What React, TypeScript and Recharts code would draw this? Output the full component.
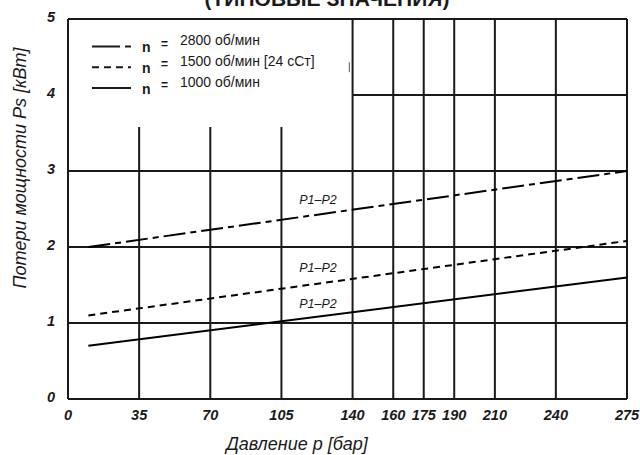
import { LineChart, Line, XAxis, YAxis, ReferenceLine, ReferenceDot, Customized } from "recharts"

// pressure p [bar] at the ends of each straight curve
const pressure = [10, 275]
// power loss Ps [kW]
const loss2800 = [2.0, 3.0]
const loss1500 = [1.1, 2.08]
const loss1000 = [0.7, 1.6]

const speedNames = ["2800 об/мин", "1500 об/мин [24 сСт]", "1000 об/мин"]
const curveLabel = "P1–P2"
const curveLabelPressure = 123
const curveLabelLoss = [2.63, 1.73, 1.26]

const pressureTicks = [0, 35, 70, 105, 140, 160, 175, 190, 210, 240, 275]
const lossTicks = [0, 1, 2, 3, 4, 5]

// grid drawn by hand like the original sheet
const shortVerticals = [35, 70, 105]
const shortVerticalTop = 3.58
const fullVerticals = [140, 160, 175, 190, 210, 240, 275]
const fullHorizontals = [1, 2, 3, 5]
const partialHorizontals = [4]
const partialFrom = 140

const FONT = "'Liberation Sans', Arial, sans-serif"
const INK = "#1a1a1a"
const DASHES = ["22 5 6 5", "7 5", undefined]

const rows = pressure.map((p, i) => ({ p, a: loss2800[i], b: loss1500[i], c: loss1000[i] }))

const PressureTick = (props: any) => (
  <text x={props.x} y={props.y} dy={11} textAnchor="middle" fill={INK} fontSize={14.5} fontStyle="italic" fontWeight="bold" fontFamily={FONT}>
    {props.payload.value}
  </text>
)

const LossTick = (props: any) => (
  <text x={props.x} y={props.y} dy={3} textAnchor="end" fill={INK} fontSize={14.5} fontStyle="italic" fontWeight="bold" fontFamily={FONT}>
    {props.payload.value}
  </text>
)

function Decorations() {
  return (
    <g fontFamily={FONT} fill={INK}>
      <text x={327} y={6} textAnchor="middle" fontSize={21} fontWeight="bold">
        (ТИПОВЫЕ ЗНАЧЕНИЯ)
      </text>
      <text
        x={20}
        y={168}
        transform="rotate(-90 20 168)"
        textAnchor="middle"
        dominantBaseline="central"
        fontSize={18}
        fontStyle="italic"
      >
        Потери мощности Ps [кВт]
      </text>
      <text x={297} y={450} textAnchor="middle" fontSize={18} fontStyle="italic">
        Давление p [бар]
      </text>
      {speedNames.map((name, i) => {
        const y = 46.5 + i * 20.8
        return (
          <g key={name}>
            <line x1={92} x2={131} y1={y} y2={y} stroke={INK} strokeWidth={2} strokeDasharray={i === 0 ? "28 5 6 50" : DASHES[i]} />
            <text x={142} y={y + 5.5} fontSize={14} fontWeight="bold">n</text>
            <text x={161} y={y + 1} fontSize={12} fontWeight="bold">=</text>
            <text x={180} y={y - 1.5} fontSize={14}>{name}</text>
          </g>
        )
      })}
    </g>
  )
}

export default function App() {
  return (
    <div style={{ position: "fixed", left: 0, top: 0, width: 640, height: 455, background: "#fff" }}>
      <LineChart width={640} height={455} data={rows} margin={{ top: 19, right: 13, bottom: 26, left: 28 }}>
        <XAxis
          dataKey="p"
          type="number"
          domain={[0, 275]}
          ticks={pressureTicks}
          interval={0}
          height={30}
          tickSize={0}
          tickMargin={10}
          axisLine={{ stroke: INK, strokeWidth: 2 }}
          tickLine={false}
          tick={PressureTick}
        />
        <YAxis
          type="number"
          domain={[0, 5]}
          ticks={lossTicks}
          interval={0}
          width={40}
          tickSize={0}
          tickMargin={13}
          axisLine={{ stroke: INK, strokeWidth: 2 }}
          tickLine={false}
          tick={LossTick}
        />
        {shortVerticals.map((x) => (
          <ReferenceLine key={`sv${x}`} segment={[{ x, y: 0 }, { x, y: shortVerticalTop }]} stroke={INK} strokeWidth={2} />
        ))}
        {fullVerticals.map((x) => (
          <ReferenceLine key={`fv${x}`} segment={[{ x, y: 0 }, { x, y: 5 }]} stroke={INK} strokeWidth={2} />
        ))}
        {fullHorizontals.map((y) => (
          <ReferenceLine key={`fh${y}`} segment={[{ x: 0, y }, { x: 275, y }]} stroke={INK} strokeWidth={2} />
        ))}
        {partialHorizontals.map((y) => (
          <ReferenceLine key={`ph${y}`} segment={[{ x: partialFrom, y }, { x: 275, y }]} stroke={INK} strokeWidth={2} />
        ))}
        <ReferenceLine segment={[{ x: 138.4, y: 4.3 }, { x: 138.4, y: 4.43 }]} stroke="#555" strokeWidth={1} />
        <Line dataKey="a" type="linear" stroke="#000" strokeWidth={2} strokeDasharray={DASHES[0]} dot={false} isAnimationActive={false} />
        <Line dataKey="b" type="linear" stroke="#000" strokeWidth={2} strokeDasharray={DASHES[1]} dot={false} isAnimationActive={false} />
        <Line dataKey="c" type="linear" stroke="#000" strokeWidth={2} dot={false} isAnimationActive={false} />
        {curveLabelLoss.map((y, i) => (
          <ReferenceDot
            key={`lbl${i}`}
            x={curveLabelPressure}
            y={y}
            r={0}
            stroke="none"
            fill="none"
            label={{ value: curveLabel, position: "center", fill: INK, fontSize: 12.5, fontStyle: "italic", fontFamily: FONT }}
          />
        ))}
        <Customized component={Decorations} />
      </LineChart>
    </div>
  )
}
